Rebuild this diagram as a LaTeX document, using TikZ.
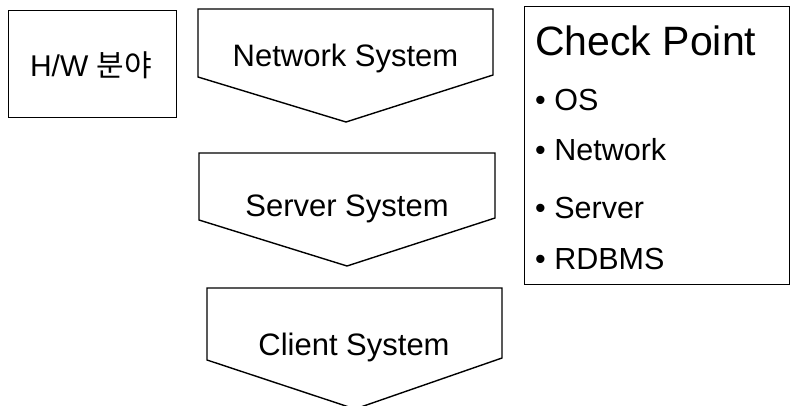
\documentclass[tikz,border=0pt]{standalone}
\usepackage{fontspec}
\setmainfont{Liberation Sans}
\newfontfamily\krfont{Noto Sans CJK KR}
\begin{document}
\begin{tikzpicture}[x=1pt,y=-1pt,
  box/.style={draw=black,line width=1pt},
  penta/.style={draw=black,line width=1.4pt,line join=miter},
  ptext/.style={anchor=base,inner sep=0pt,font=\fontsize{31}{31}\selectfont},
  blist/.style={anchor=base west,inner sep=0pt,font=\fontsize{30.5}{30.5}\selectfont}]
\useasboundingbox (0,0) rectangle (790,405);
% H/W box
\draw[box] (8,10) rectangle (176,117);
\node[anchor=base,inner sep=0pt,font=\fontsize{30}{30}\selectfont] (hw) at (91,76) {H/W {\krfont 분야}};
% pentagons
\draw[penta] (198,9) -- (493,9) -- (493,75) -- (346,122) -- (198,77) -- cycle;
\node[ptext] (net) at (345.5,66) {Network System};
\draw[penta] (199,153) -- (495,153) -- (495,218) -- (347,266) -- (199,220) -- cycle;
\node[ptext] (srv) at (347,216) {Server System};
\draw[penta] (207,288) -- (502,288) -- (502,358) -- (355,409) -- (207,360) -- cycle;
\node[ptext] (cli) at (354,355) {Client System};
% Check point box
\draw[box] (524,6) -- (789,6) -- (789,284) -- (524,284) -- cycle;
\node[anchor=base west,inner sep=0pt,font=\fontsize{41}{41}\selectfont] (cp) at (535,55) {Check Point};
\node[blist] (b1) at (535,110) {• OS};
\node[blist] (b2) at (535,160) {• Network};
\node[blist] (b3) at (535,218) {• Server};
\node[blist] (b4) at (535,269) {• RDBMS};
\end{tikzpicture}
\end{document}
